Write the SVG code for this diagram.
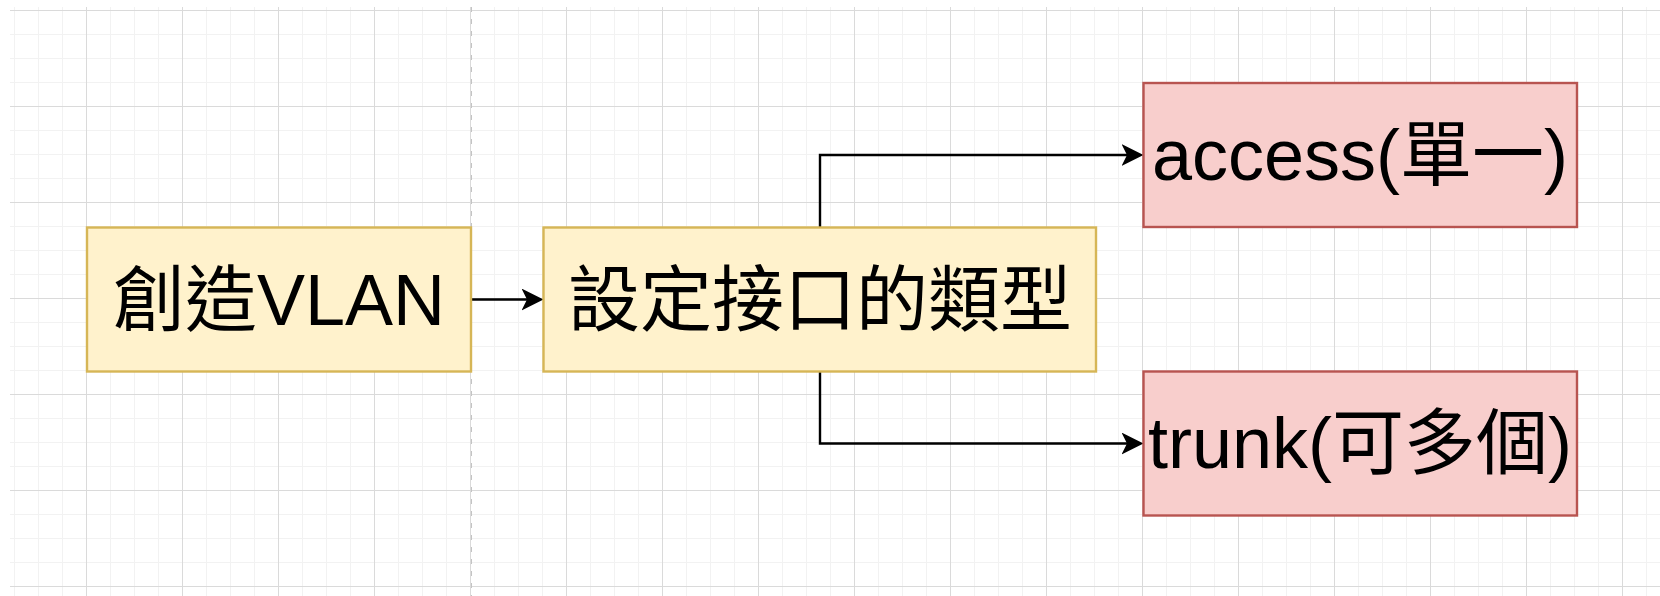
<svg xmlns="http://www.w3.org/2000/svg" width="1660" height="596" viewBox="0 0 1660 596">
  <defs>
    <pattern id="grid" patternUnits="userSpaceOnUse" x="86" y="10" width="96" height="96">
      <rect x="0" y="0" width="96" height="96" fill="#ffffff"/>
      <rect x="24" y="0" width="1" height="96" fill="#f2f2f2"/>
      <rect x="48" y="0" width="1" height="96" fill="#f2f2f2"/>
      <rect x="72" y="0" width="1" height="96" fill="#f2f2f2"/>
      <rect x="0" y="24" width="96" height="1" fill="#f2f2f2"/>
      <rect x="0" y="48" width="96" height="1" fill="#f2f2f2"/>
      <rect x="0" y="72" width="96" height="1" fill="#f2f2f2"/>
      <rect x="0" y="0" width="1" height="96" fill="#dadada"/>
      <rect x="0" y="0" width="96" height="1" fill="#dadada"/>
    </pattern>
    <marker id="arrow" markerUnits="userSpaceOnUse" viewBox="0 0 22 22" markerWidth="22" markerHeight="22" refX="5.5" refY="11" orient="auto">
      <path d="M0,0 L22,11 L0,22 L5.5,11 Z" fill="#000000"/>
    </marker>
    <style>
      .yellow { fill: #fff2cc; stroke: #d6b656; stroke-width: 2.4; }
      .red { fill: #f8cecc; stroke: #b85450; stroke-width: 2.4; }
      .label { font-family: "Liberation Sans", "Noto Sans CJK TC", sans-serif; font-size: 72px; fill: #000000; text-anchor: middle; }
      .edge { fill: none; stroke: #000000; stroke-width: 2.4; marker-end: url(#arrow); }
    </style>
  </defs>
  <rect x="0" y="0" width="1660" height="596" fill="#ffffff"/>
  <rect x="10" y="7" width="1650" height="589" fill="url(#grid)"/>
  <line x1="471.5" y1="7" x2="471.5" y2="596" stroke="#c4c4c4" stroke-width="1" stroke-dasharray="5 7"/>

  <g id="connectors">
    <path class="edge" d="M471,299.5 H527"/>
    <path class="edge" d="M820,227.5 V155 H1127"/>
    <path class="edge" d="M820,371.5 V443.5 H1127"/>
  </g>

  <g id="node-create-vlan">
    <rect class="yellow" x="87" y="227.5" width="384" height="144"/>
    <text class="label" x="279" y="325">創造VLAN</text>
  </g>
  <g id="node-set-interface">
    <rect class="yellow" x="543.5" y="227.5" width="552.5" height="144"/>
    <text class="label" x="820" y="325">設定接口的類型</text>
  </g>
  <g id="node-access">
    <rect class="red" x="1143.5" y="83" width="433.5" height="144"/>
    <text class="label" x="1360" y="180">access(單一)</text>
  </g>
  <g id="node-trunk">
    <rect class="red" x="1143.5" y="371.5" width="433.5" height="144"/>
    <text class="label" x="1360" y="468">trunk(可多個)</text>
  </g>
</svg>
